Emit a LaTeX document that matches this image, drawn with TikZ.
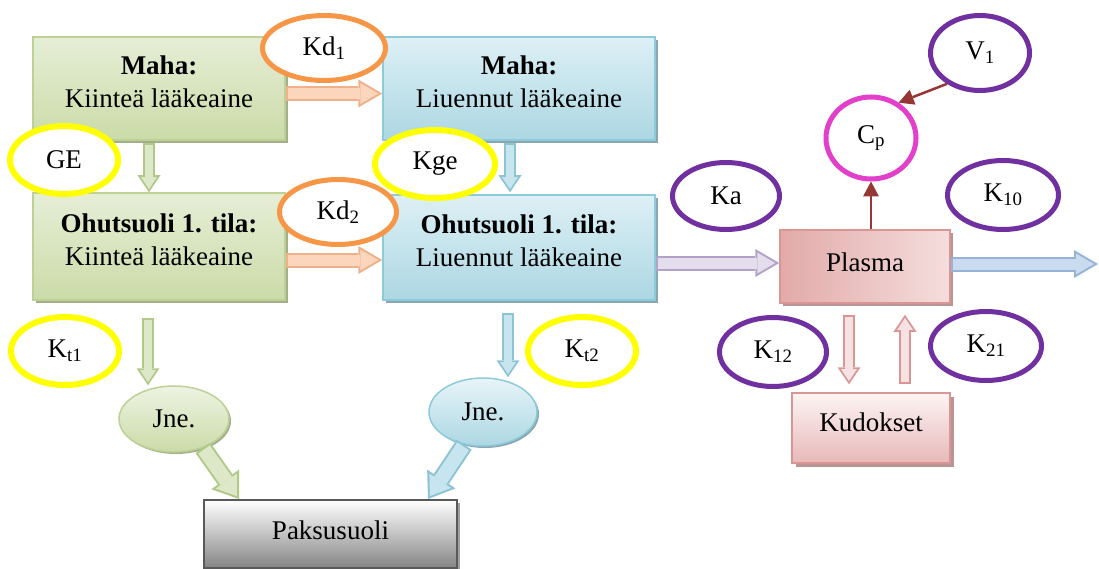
\documentclass[tikz,border=0pt]{standalone}
\usepackage{fontspec}
\setmainfont{Liberation Serif}
\usetikzlibrary{arrows.meta,shapes.geometric,shadows}
\definecolor{grT}{HTML}{E6EED6}
\definecolor{grB}{HTML}{CBDBA8}
\definecolor{grE}{HTML}{BDD196}
\definecolor{grS}{HTML}{A2B08A}
\definecolor{blT}{HTML}{DDF0F5}
\definecolor{blB}{HTML}{ACD7E3}
\definecolor{blE}{HTML}{8FCADB}
\definecolor{blS}{HTML}{88A7B0}
\definecolor{pkL}{HTML}{E2AAA9}
\definecolor{pkR}{HTML}{F4DEDD}
\definecolor{pkTop}{HTML}{FDF4F4}
\definecolor{pkBot}{HTML}{E6B9B8}
\definecolor{pkE}{HTML}{D99694}
\definecolor{pkS}{HTML}{B89494}
\definecolor{gyE}{HTML}{595959}
\definecolor{gyB}{HTML}{858585}
\definecolor{gyS}{HTML}{A0A0A0}
\definecolor{orAE}{HTML}{EFB08A}
\definecolor{orAF}{HTML}{FBD6BC}
\definecolor{grAE}{HTML}{B0C888}
\definecolor{grAF}{HTML}{DDE8C8}
\definecolor{blAE}{HTML}{8CC4D4}
\definecolor{blAF}{HTML}{C6E5EE}
\definecolor{kaAE}{HTML}{B3A2C7}
\definecolor{kaAF}{HTML}{E4DEEC}
\definecolor{kxAE}{HTML}{95B3D7}
\definecolor{kxAF}{HTML}{CADBEF}
\definecolor{pkAE}{HTML}{D99694}
\definecolor{pkAF}{HTML}{F6E2E2}
\definecolor{ylw}{HTML}{FFFF00}
\definecolor{org}{HTML}{F79646}
\definecolor{prp}{HTML}{7030A0}
\definecolor{mag}{HTML}{E23FCB}
\definecolor{dred}{HTML}{953735}
\newcommand\blkarrow[5]{%
  \draw[#3o, color=#1] #4 -- #5;
  \draw[#3i, color=#2] #4 -- #5;}
\begin{document}
\begin{tikzpicture}[x=1pt,y=-1pt,
  every node/.style={font=\fontsize{27}{33}\selectfont},
  box/.style={rectangle, inner sep=0pt, line width=1.5pt},
  gbox/.style={box, draw=grE, top color=grT, bottom color=grB,
    drop shadow={shadow xshift=3pt, shadow yshift=-3pt, fill=grS, opacity=1}},
  bbox/.style={box, draw=blE, top color=blT, bottom color=blB,
    drop shadow={shadow xshift=3pt, shadow yshift=-3pt, fill=blS, opacity=1}},
  plbox/.style={box, draw=pkE, left color=pkL, right color=pkR,
    drop shadow={shadow xshift=3pt, shadow yshift=-3pt, fill=pkS, opacity=1}},
  kubox/.style={box, draw=pkE, top color=pkTop, bottom color=pkBot,
    drop shadow={shadow xshift=4pt, shadow yshift=-4pt, fill=pkS, opacity=1}},
  pabox/.style={box, draw=gyE, line width=2pt, top color=white, bottom color=gyB,
    drop shadow={shadow xshift=3pt, shadow yshift=-3pt, fill=gyS, opacity=1}},
  txt/.style={align=center, inner sep=0pt},
  gjne/.style={ellipse, inner sep=0pt, line width=1.5pt, draw=grE, top color=grT!70!white, bottom color=grB,
    drop shadow={shadow xshift=2pt, shadow yshift=-2pt, fill=grS, opacity=1}},
  bjne/.style={ellipse, inner sep=0pt, line width=1.5pt, draw=blE, top color=blT!70!white, bottom color=blB,
    drop shadow={shadow xshift=2pt, shadow yshift=-2pt, fill=blS, opacity=1}},
  lbl/.style={ellipse, inner sep=0pt, line width=5pt, fill=white},
  Ao/.style={line width=15pt, -{Triangle[width=28pt,length=24pt,line width=0pt]}},
  Ai/.style={line width=11pt, shorten >=4pt, shorten <=2pt, -{Triangle[width=21pt,length=18pt,line width=0pt]}},
  Bo/.style={line width=12pt, -{Triangle[width=23pt,length=17pt,line width=0pt]}},
  Bi/.style={line width=8.4pt, shorten >=3.2pt, shorten <=1.8pt, -{Triangle[width=16pt,length=12pt,line width=0pt]}},
  Co/.style={line width=18pt, -{Triangle[width=34pt,length=24pt,line width=0pt]}},
  Ci/.style={line width=14pt, shorten >=3.5pt, shorten <=2pt, -{Triangle[width=26pt,length=18.5pt,line width=0pt]}},
  cpline/.style={draw=dred, line width=2.5pt, -{Triangle[width=16pt,length=15pt,line width=0pt]}}
]
\useasboundingbox (0,0) rectangle (1099,569);

% boxes
\node[gbox, minimum width=252pt, minimum height=103pt] (g1) at (159,88.5) {};
\node[txt] (g1t) at ([yshift=7pt]g1.center) {\textbf{Maha:}\\Kiinteä lääkeaine};
\node[bbox, minimum width=272pt, minimum height=103pt] (b1) at (519,88.5) {};
\node[txt] (b1t) at ([yshift=7pt]b1.center) {\textbf{Maha:}\\Liuennut lääkeaine};
\node[gbox, minimum width=252pt, minimum height=107pt] (g2) at (159,246.5) {};
\node[txt] (g2t) at ([yshift=7pt]g2.center) {\textbf{Ohutsuoli 1. tila:}\\Kiinteä lääkeaine};
\node[bbox, minimum width=272pt, minimum height=105pt] (b2) at (519,247.5) {};
\node[txt] (b2t) at ([yshift=7pt]b2.center) {\textbf{Ohutsuoli 1. tila:}\\Liuennut lääkeaine};
\node[plbox, minimum width=170pt, minimum height=73pt] (plasma) at (865,266.5) {};
\node[txt] (plt) at ([yshift=4pt]plasma.center) {Plasma};
\node[kubox, minimum width=158pt, minimum height=70pt] (kud) at (871,428) {};
\node[txt] (kut) at ([yshift=6pt]kud.center) {Kudokset};
\node[pabox, minimum width=253pt, minimum height=68pt] (pak) at (330.5,534) {};
\node[txt] (pat) at ([yshift=4pt]pak.center) {Paksusuoli};
\node[gjne, minimum width=110pt, minimum height=66pt] (jne1) at (174,419) {Jne.};
\node[bjne, minimum width=108pt, minimum height=68pt] (jne2) at (483,412) {Jne.};

% block arrows
\blkarrow{orAE}{orAF}{A}{([yshift=-5pt]g1.east)}{([yshift=-5pt]b1.west)}
\blkarrow{orAE}{orAF}{A}{([yshift=-13.5pt]g2.east)}{([yshift=-12.5pt]b2.west)}
\blkarrow{grAE}{grAF}{B}{([xshift=-10pt,yshift=-2pt]g1.south)}{([xshift=-10pt]g2.north)}
\blkarrow{blAE}{blAF}{B}{([xshift=-9pt,yshift=-2pt]b1.south)}{([xshift=-9pt,yshift=2pt]b2.north)}
\blkarrow{grAE}{grAF}{B}{([xshift=-11pt,yshift=-17pt]g2.south)}{([xshift=-26pt]jne1.north)}
\blkarrow{blAE}{blAF}{B}{([xshift=-11pt,yshift=-12pt]b2.south)}{([xshift=25pt]jne2.north)}
\blkarrow{grAE}{grAF}{C}{(jne1.-45)}{([xshift=36pt]pak.north west)}
\blkarrow{blAE}{blAF}{C}{(jne2.-120)}{([xshift=-30pt]pak.north east)}
\blkarrow{kaAE}{kaAF}{A}{([yshift=-15.5pt]b2.east)}{([yshift=3.5pt]plasma.west)}
\coordinate (out) at (1098,264);
\blkarrow{kxAE}{kxAF}{A}{([yshift=2.5pt]plasma.east)}{(out)}
\blkarrow{pkAE}{pkAF}{B}{([xshift=-16pt,yshift=-11pt]plasma.south)}{([xshift=-22pt,yshift=8pt]kud.north)}
\blkarrow{pkAE}{pkAF}{B}{([xshift=34pt,yshift=8pt]kud.north)}{([xshift=40pt,yshift=-11pt]plasma.south)}

% parameter ellipses
\node[lbl, draw=org, minimum width=123pt, minimum height=65pt] (kd1) at (324,48) {Kd\textsubscript{1}};
\node[lbl, draw=ylw, line width=6pt, minimum width=108pt, minimum height=68pt] (ge) at (64,160) {GE};
\node[lbl, draw=org, minimum width=117pt, minimum height=65pt] (kd2) at (338,212) {Kd\textsubscript{2}};
\node[lbl, draw=ylw, line width=6pt, minimum width=120pt, minimum height=68pt] (kge) at (435,164) {Kge};
\node[lbl, draw=prp, minimum width=107pt, minimum height=67pt] (ka) at (726,196) {Ka};
\node[lbl, draw=prp, minimum width=99pt, minimum height=75pt] (v1) at (980,53) {V\textsubscript{1}};
\node[lbl, draw=mag, minimum width=90pt, minimum height=82pt] (cp) at (871,138) {C\textsubscript{p}};
\node[lbl, draw=prp, minimum width=111pt, minimum height=69pt] (k10) at (1003,195) {K\textsubscript{10}};
\node[lbl, draw=ylw, line width=6pt, minimum width=108pt, minimum height=68pt] (kt1) at (65,351) {K\textsubscript{t1}};
\node[lbl, draw=ylw, line width=6pt, minimum width=108pt, minimum height=68pt] (kt2) at (582,351) {K\textsubscript{t2}};
\node[lbl, draw=prp, minimum width=107pt, minimum height=69pt] (k12) at (773,352) {K\textsubscript{12}};
\node[lbl, draw=prp, minimum width=111pt, minimum height=69pt] (k21) at (986,346) {K\textsubscript{21}};

% concentration connectors
\draw[cpline] (plasma.north -| cp.south) -- (cp.south);
\draw[cpline] (v1.223) -- (cp.52);
\end{tikzpicture}
\end{document}
